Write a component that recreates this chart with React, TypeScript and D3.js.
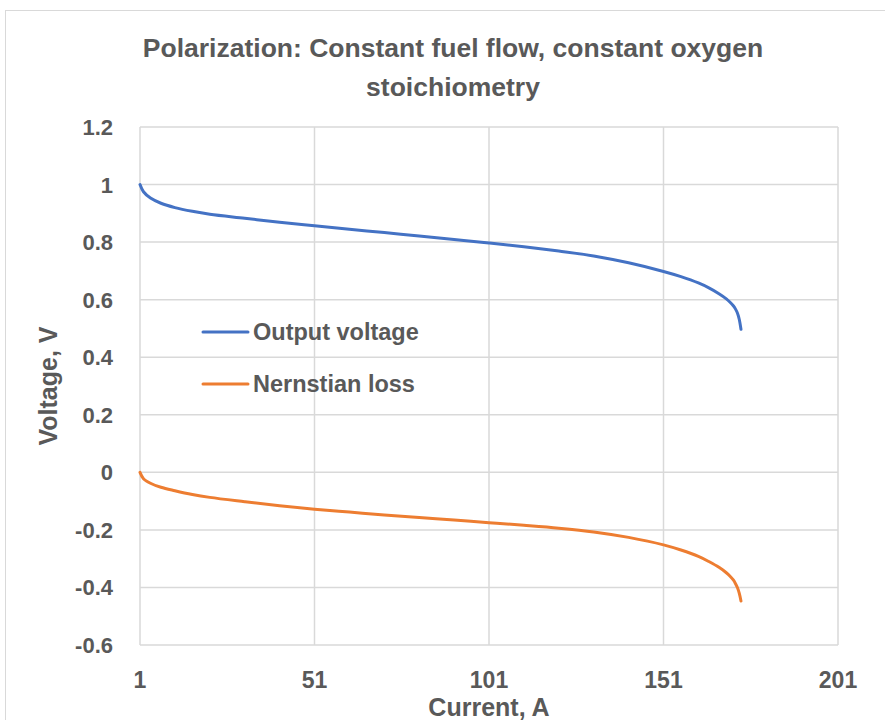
import React from "react";
import * as d3 from "d3";

const currents = [1, 2, 4, 7, 11, 16, 21, 31, 41, 51, 61, 71, 81, 91, 101, 111, 121, 131, 141, 151, 156, 161, 164, 167, 169, 170, 171, 171.6, 172.2, 172.7, 173.2];
const outputVoltage = [1.0, 0.975, 0.953, 0.935, 0.92, 0.907, 0.897, 0.883, 0.869, 0.857, 0.845, 0.833, 0.821, 0.809, 0.797, 0.784, 0.769, 0.752, 0.728, 0.698, 0.68, 0.658, 0.641, 0.62, 0.603, 0.592, 0.579, 0.568, 0.553, 0.532, 0.497];
const nernstianLoss = [0.0, -0.022, -0.038, -0.052, -0.064, -0.077, -0.087, -0.102, -0.116, -0.128, -0.138, -0.148, -0.157, -0.166, -0.175, -0.184, -0.194, -0.207, -0.226, -0.252, -0.27, -0.292, -0.31, -0.331, -0.349, -0.36, -0.374, -0.386, -0.401, -0.42, -0.447];
const xTicks = [1, 51, 101, 151, 201];
const yTicks = [-0.6, -0.4, -0.2, 0, 0.2, 0.4, 0.6, 0.8, 1, 1.2];
const yTickLabels = ["-0.6", "-0.4", "-0.2", "0", "0.2", "0.4", "0.6", "0.8", "1", "1.2"];
const seriesNames = ["Output voltage", "Nernstian loss"];
const seriesColors = ["#4472C4", "#ED7D31"];
const titleLines = ["Polarization: Constant fuel flow, constant oxygen", "stoichiometry"];

const W = 885, H = 720;
const left = 140, right = 838, top = 127, bottom = 645;
const font = "'Liberation Sans', Arial, sans-serif";
const textColor = "#595959";
const gridColor = "#d9d9d9";

export default function App() {
  const x = d3.scaleLinear().domain([1, 201]).range([left, right]);
  const y = d3.scaleLinear().domain([-0.6, 1.2]).range([bottom, top]);
  const line = d3.line<number>().x((_, i) => x(currents[i])).y((d) => y(d)).curve(d3.curveCatmullRom.alpha(0.5));
  const series = [outputVoltage, nernstianLoss];
  return (
    <svg width={W} height={H} style={{ position: "absolute", left: 0, top: 0, background: "#fff" }}>
      <rect x={5.5} y={10.5} width={W} height={H} fill="#fff" stroke={gridColor} strokeWidth={1} />
      {titleLines.map((t, i) => (
        <text key={i} x={453} y={57 + i * 39} textAnchor="middle" fontFamily={font} fontWeight="bold" fontSize={26.5} fill={textColor}>{t}</text>
      ))}
      {yTicks.map((v) => (
        <line key={"gy" + v} x1={left} x2={right} y1={y(v)} y2={y(v)} stroke={gridColor} strokeWidth={1.5} />
      ))}
      {xTicks.map((v) => (
        <line key={"gx" + v} x1={x(v)} x2={x(v)} y1={top} y2={bottom} stroke={gridColor} strokeWidth={1.5} />
      ))}
      {yTicks.map((v, i) => (
        <text key={"ty" + v} x={113} y={y(v) + 8} textAnchor="end" fontFamily={font} fontWeight="bold" fontSize={22} fill={textColor}>{yTickLabels[i]}</text>
      ))}
      {xTicks.map((v) => (
        <text key={"tx" + v} x={x(v)} y={688} textAnchor="middle" fontFamily={font} fontWeight="bold" fontSize={23} fill={textColor}>{v}</text>
      ))}
      <text x={489} y={716} textAnchor="middle" fontFamily={font} fontWeight="bold" fontSize={25} fill={textColor}>Current, A</text>
      <text transform={`translate(57,386) rotate(-90)`} textAnchor="middle" fontFamily={font} fontWeight="bold" fontSize={25} fill={textColor}>Voltage, V</text>
      {series.map((s, i) => (
        <path key={"s" + i} d={line(s) || ""} fill="none" stroke={seriesColors[i]} strokeWidth={3} strokeLinecap="round" />
      ))}
      {seriesNames.map((n, i) => (
        <g key={"l" + i}>
          <line x1={203} x2={248} y1={332 + i * 52} y2={332 + i * 52} stroke={seriesColors[i]} strokeWidth={3} strokeLinecap="round" />
          <text x={253} y={340 + i * 52} fontFamily={font} fontWeight="bold" fontSize={23.5} fill={textColor}>{n}</text>
        </g>
      ))}
    </svg>
  );
}
